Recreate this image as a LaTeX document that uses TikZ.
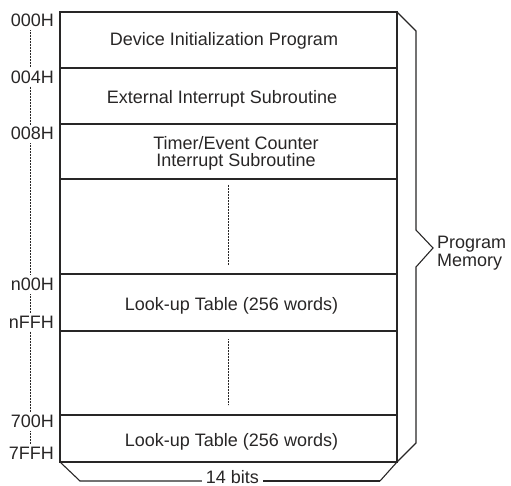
\documentclass[tikz,border=0pt]{standalone}
\usepackage{fontspec}
\setmainfont{Liberation Sans}
\definecolor{ink}{RGB}{40,38,38}
\begin{document}
\begin{tikzpicture}[x=1pt,y=-1pt,
  every node/.style={font=\fontsize{18}{17.4}\selectfont, text=ink},
  frame/.style={draw=ink, line width=1.1pt, line join=miter},
  dots/.style={draw=ink, line width=0.7pt, dash pattern=on 0.7pt off 0.8pt},
  addr/.style={anchor=base east, inner xsep=0pt, inner ysep=3pt},
  cell/.style={anchor=base, align=center, inner sep=0pt}]
\useasboundingbox (0,0) rectangle (511,486);
% memory block
\coordinate (tl) at (60,12);
\coordinate (br) at (397,462);
\coordinate (tr) at (397,12);
\coordinate (bl) at (60,462);
\draw[frame] (tl) rectangle (br);
\foreach \y in {68,124,179,274,331,415} \draw[frame] (60,\y) -- (397,\y);
% cell texts
\node[cell] (dev) at (224,45.7) {Device Initialization Program};
\node[cell] (ext) at (222,103.3) {External Interrupt Subroutine};
\node[cell] (tmr) at (236,166.7) {Timer/Event Counter\\Interrupt Subroutine};
\node[cell] (lut1) at (231.5,310) {Look-up Table (256 words)};
\node[cell] (lut2) at (231.5,446) {Look-up Table (256 words)};
\draw[dots] (228.3,185) -- (228.3,265);
\draw[dots] (228.3,339) -- (228.3,405);
% addresses
\node[addr] (a0) at (54,26.7) {000H};
\node[addr] (a1) at (54,83.3) {004H};
\node[addr] (a2) at (54,140) {008H};
\node[addr] (a3) at (54,290.7) {n00H};
\node[addr] (a4) at (54,328.3) {nFFH};
\node[addr] (a5) at (54,427.7) {700H};
\node[addr] (a6) at (54,459.3) {7FFH};
\coordinate (dx) at (30.5,0);
\draw[dots] (a0.south -| dx) -- (a1.north -| dx);
\draw[dots] (a1.south -| dx) -- (a2.north -| dx);
\draw[dots] (a2.south -| dx) -- (a3.north -| dx);
\draw[dots] (a3.south -| dx) -- (a4.north -| dx);
\draw[dots] (a4.south -| dx) -- (a5.north -| dx);
\draw[dots] (a5.south -| dx) -- (a6.north -| dx);
% right brace
\node[anchor=base west, align=left, inner sep=0pt] (pm) at (437,266) {Program\\Memory};
\coordinate (tip) at (433,248);
\draw[frame] (tr) -- (416,31) -- (416,230) -- (tip) -- (416,267) -- (416,443) -- (br) -- (380,481) coordinate (bbr);
% bottom brace
\node[anchor=base, inner xsep=4pt, inner ysep=0pt] (bits) at (232.5,483.5) {14 bits};
\coordinate (bbl) at (80,481);
\draw[frame] (bbr) -- (bits.east |- bbr);
\draw[frame] (bits.west |- bbl) -- (bbl) -- (bl);
\end{tikzpicture}
\end{document}
